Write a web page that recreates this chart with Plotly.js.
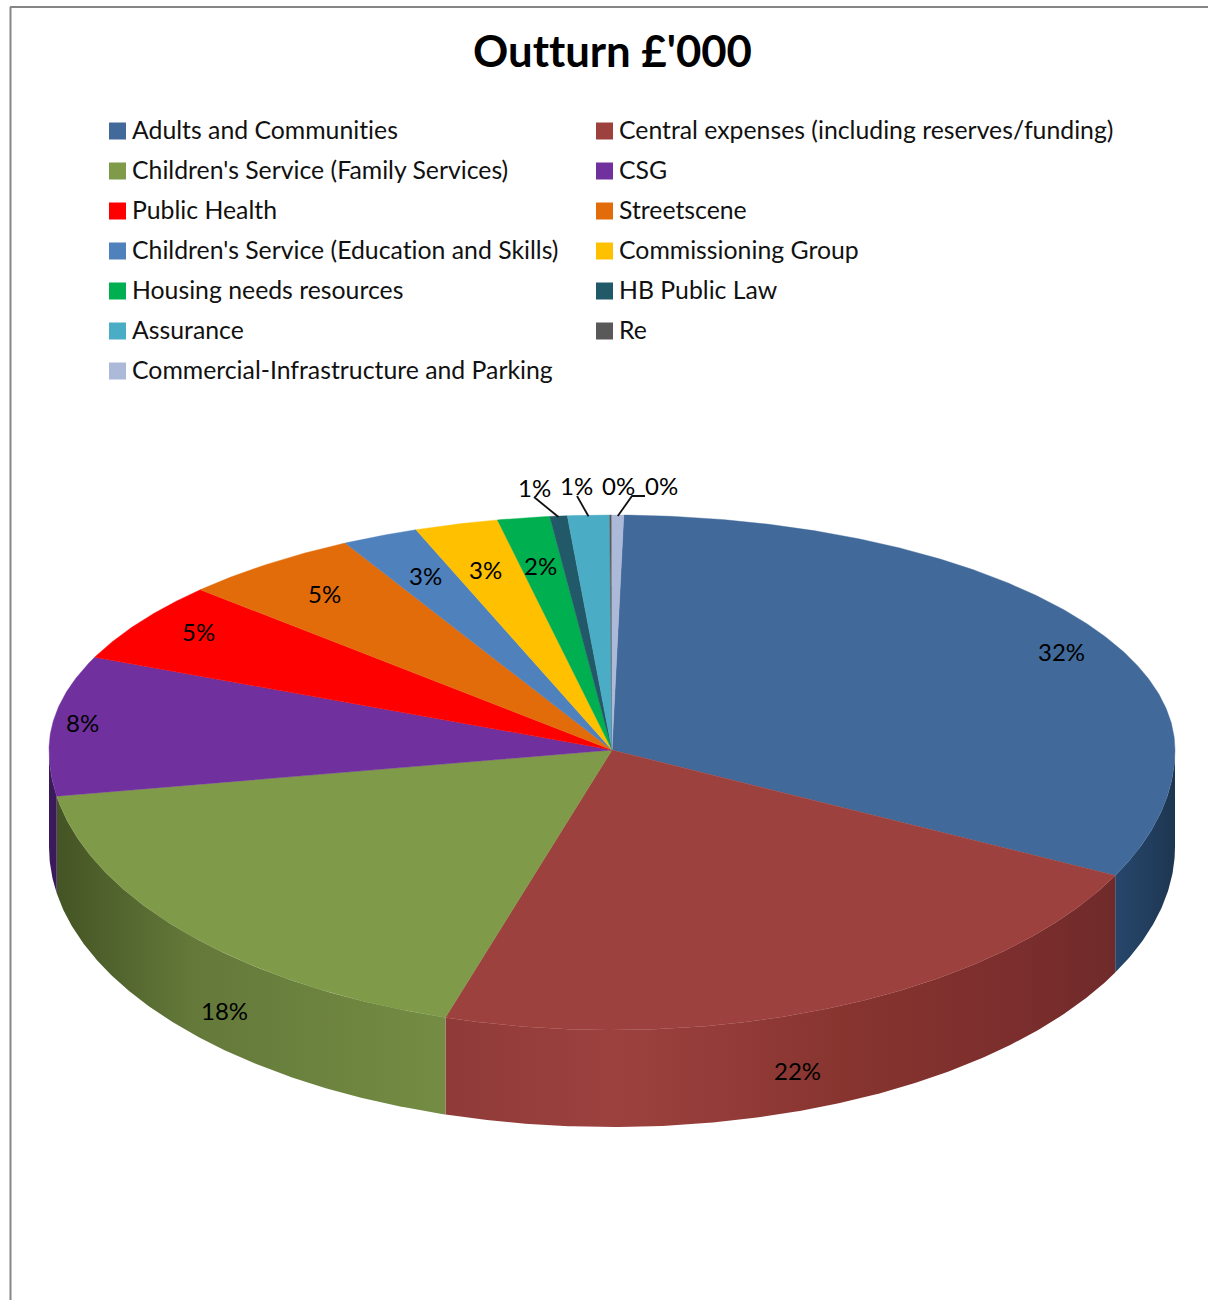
<!DOCTYPE html>
<html><head><meta charset="utf-8">
<script src="https://cdn.plot.ly/plotly-3.0.1.min.js"></script>
<style>html,body{margin:0;padding:0;background:#fff;overflow:hidden}
svg text{font-variant-ligatures:none;font-feature-settings:"liga" 0,"clig" 0}</style>
</head><body><div id="chart" style="width:1208px;height:1300px"></div>
<script>
// ---- data ----
const categories = ["Adults and Communities","Central expenses (including reserves/funding)","Children's Service (Family Services)","CSG","Public Health","Streetscene","Children's Service (Education and Skills)","Commissioning Group","Housing needs resources","HB Public Law","Assurance","Re","Commercial-Infrastructure and Parking"];
const values = [32.1,22.4,17.6,9.1,5.5,5.2,2.2,2.4,1.5,0.5,1.2,0.06,0.34];
const percentLabels = ["32%","22%","18%","8%","5%","5%","3%","3%","2%","1%","1%","0%","0%"];
const colors = ["#416a9b","#9d413e","#7f9a48","#70319f","#ff0000","#e36c0a","#4f81bd","#ffc000","#00b050","#215968","#4bacc6","#595959","#adb9d8"];
const chartTitle = "Outturn £'000";

// ---- layout constants ----
const FONT = "Lato, Carlito, Calibri, sans-serif";
const C = {cx:612, cy:750, rx:563, ryBack:235, ryFront:280, depth:97, startDeg:1.2};
const labelX = [1061,797,224,82,198,324,425,485,540,534,576,618.5,661];
const labelY = [651,1070,1010,722,631.5,593,575,569,565,487,485,485,485];
const leaderFrom = {9:[[534,497]],10:[[577,496]],12:[[645,496],[632,496]]};
const wallShades = {
  0:[[0,"#26466a"],[0.5,"#233f60"],[1,"#1d3650"]],
  1:[[0,"#8f3b39"],[0.25,"#9c413e"],[0.4,"#943c39"],[0.6,"#87342f"],[0.85,"#7b2e2d"],[1,"#6f2b2a"]],
  2:[[0,"#445424"],[0.35,"#64793a"],[1,"#748c43"]],
  3:[[0,"#3b1a5c"],[1,"#3b1a5c"]]
};

function project(deg, z){
  const t = deg*Math.PI/180, c = Math.cos(t);
  return [C.cx + C.rx*Math.sin(t), C.cy - (c>=0?C.ryBack:C.ryFront)*c + (z||0)];
}
function arc(a,b,z){
  const pts=[], n=Math.max(2,Math.ceil(Math.abs(b-a)/0.4));
  for(let i=0;i<=n;i++) pts.push(project(a+(b-a)*i/n,z));
  return pts;
}
const total = values.reduce((s,v)=>s+v,0);
let acc = C.startDeg;
const spans = values.map(v=>{const s=[acc,acc+v/total*360]; acc=s[1]; return s;});

const traces=[];
spans.forEach((s,i)=>{
  const a=Math.max(s[0],90), b=Math.min(s[1],270);
  if(b<=a) return;
  const poly=arc(a,b,0).concat(arc(b,a,C.depth));
  poly.push(poly[0]);
  traces.push({type:"scatter",mode:"lines",x:poly.map(p=>p[0]),y:poly.map(p=>p[1]),fill:"toself",
    line:{width:0},fillcolor:colors[i],
    fillgradient:{type:"horizontal",colorscale:wallShades[i]},hoverinfo:"skip",showlegend:false});
});
spans.forEach((s,i)=>{
  const poly=[[C.cx,C.cy]].concat(arc(s[0],s[1],0)); poly.push([C.cx,C.cy]);
  traces.push({type:"scatter",mode:"lines",name:categories[i],x:poly.map(p=>p[0]),y:poly.map(p=>p[1]),fill:"toself",
    fillcolor:colors[i],line:{width:0.4,color:colors[i]},hoverinfo:"name",showlegend:false});
});
Object.keys(leaderFrom).forEach(k=>{
  const i=+k, end=project((spans[i][0]+spans[i][1])/2,0);
  const pts=leaderFrom[k].concat([[end[0],end[1]+1]]);
  traces.push({type:"scatter",mode:"lines",x:pts.map(p=>p[0]),y:pts.map(p=>p[1]),line:{width:1.8,color:"#111"},hoverinfo:"skip",showlegend:false});
});
const legendCols=[117.5,604.5], legendTop=130, legendStep=40, legendTextCols=[132,619];
categories.forEach((c,i)=>{
  traces.push({type:"scatter",mode:"markers",x:[legendCols[i%2]],y:[legendTop+1+legendStep*Math.floor(i/2)],
    marker:{symbol:"square",size:17,color:colors[i],line:{width:0}},hoverinfo:"skip",showlegend:false});
});

const annotations=[];
categories.forEach((c,i)=>annotations.push({xref:"x",yref:"y",x:legendTextCols[i%2],y:legendTop-1+legendStep*Math.floor(i/2),text:c,
  showarrow:false,xanchor:"left",yanchor:"middle",xshift:-2,font:{family:FONT,size:24.8,color:"#111"}}));
percentLabels.forEach((t,i)=>annotations.push({xref:"x",yref:"y",x:labelX[i],y:labelY[i],text:t,showarrow:false,
  xanchor:"center",yanchor:"middle",font:{family:FONT,size:24,color:"#000"}}));
annotations.push({xref:"x",yref:"y",x:612,y:50,text:"<b>"+chartTitle+"</b>",showarrow:false,xanchor:"center",yanchor:"middle",
  font:{family:FONT,size:43.7,color:"#000"}});

const layout={width:1208,height:1300,margin:{l:0,r:0,t:0,b:0},paper_bgcolor:"#fff",plot_bgcolor:"#fff",showlegend:false,
  xaxis:{range:[0,1208],visible:false,fixedrange:true},
  yaxis:{range:[1300,0],visible:false,fixedrange:true},
  shapes:[
    {type:"line",xref:"x",yref:"y",x0:10.5,x1:10.5,y0:7,y1:1300,line:{color:"#868686",width:2}},
    {type:"line",xref:"x",yref:"y",x0:10,x1:1208,y0:7,y1:7,line:{color:"#868686",width:2}}
  ],
  annotations};
Plotly.newPlot("chart",traces,layout,{displayModeBar:false});
</script></body></html>
